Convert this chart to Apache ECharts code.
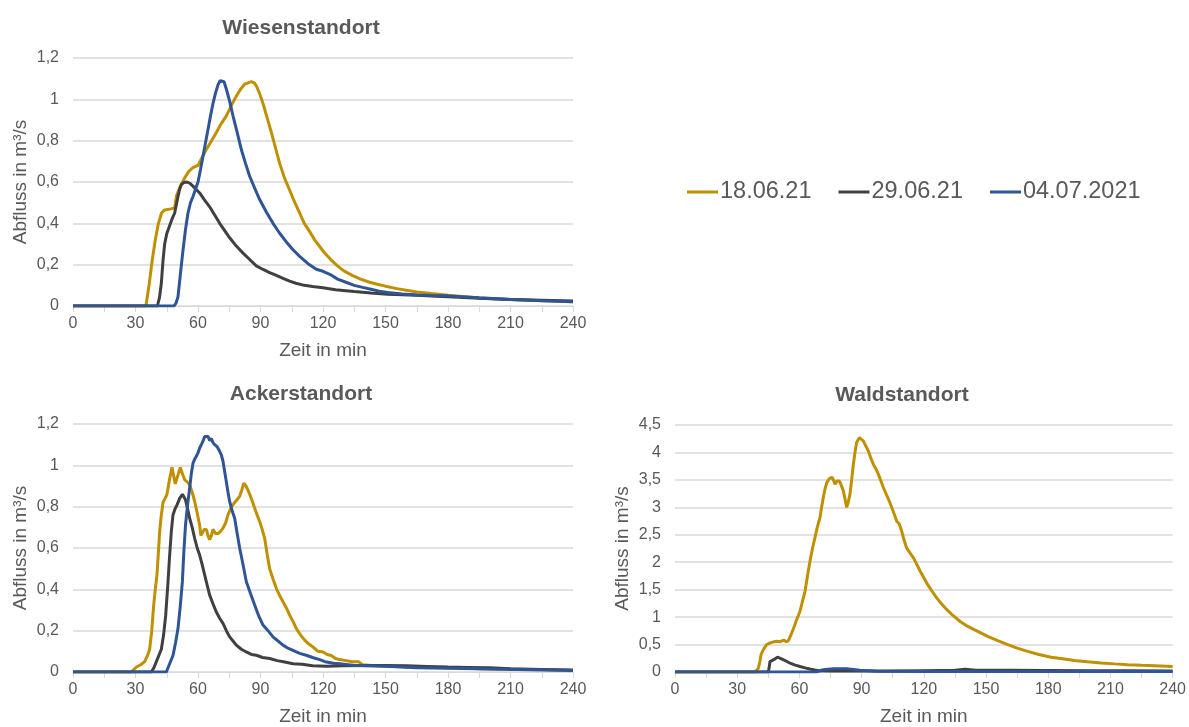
<!DOCTYPE html>
<html>
<head>
<meta charset="utf-8">
<script src="https://cdn.jsdelivr.net/npm/echarts@6/dist/echarts.min.js"></script>
<style>
html,body{margin:0;padding:0;background:#fff;}
#chart{width:1189px;height:727px;}
</style>
</head>
<body>
<div id="chart"></div>
<script>
// ---- names / ticks ----
const seriesNames = ['18.06.21', '29.06.21', '04.07.2021'];
const panelTitles = ['Wiesenstandort', 'Ackerstandort', 'Waldstandort'];
const xTicks = [0, 30, 60, 90, 120, 150, 180, 210, 240];
const yMaxWiese = 1.2, yMaxAcker = 1.2, yMaxWald = 4.5;

// ---- Wiesenstandort [min, m3/s] ----
const wiese_180621 = [[0,0],[35,0],[36.5,0.1],[38,0.22],[39.5,0.32],[41,0.40],[42.5,0.45],[44,0.465],[47,0.47],[48.8,0.475],[49.6,0.53],[51.5,0.58],[53.6,0.62],[55.5,0.65],[57.6,0.67],[60,0.68],[62,0.72],[64,0.757],[66.5,0.80],[68.8,0.84],[71,0.88],[73.6,0.92],[76,0.97],[78.4,1.016],[80.5,1.05],[82.4,1.073],[84,1.08],[85.6,1.086],[87,1.08],[88,1.065],[89.5,1.03],[91.2,0.98],[93.2,0.91],[95.2,0.84],[97.2,0.765],[99.2,0.69],[101.5,0.62],[104,0.56],[106.5,0.50],[108.8,0.45],[111,0.40],[113.6,0.36],[116,0.32],[118.4,0.288],[120.5,0.26],[123.5,0.227],[126.5,0.198],[130,0.17],[134,0.148],[138,0.13],[142,0.116],[146,0.105],[150,0.096],[155.5,0.084],[160,0.076],[165,0.068],[172,0.06],[180,0.052],[187,0.046],[195,0.039],[202,0.035],[210,0.032],[220,0.028],[230,0.024],[240,0.021]];
const wiese_290621 = [[0,0],[40.5,0],[41.5,0.04],[42.4,0.11],[43.2,0.22],[44,0.30],[45,0.35],[46.4,0.39],[47.5,0.42],[48.8,0.45],[49.6,0.49],[50.4,0.53],[51.2,0.565],[52,0.587],[53.3,0.598],[54.7,0.60],[56,0.594],[57.6,0.58],[59,0.565],[60.8,0.547],[63,0.515],[65.6,0.48],[68,0.44],[70.4,0.40],[72.8,0.365],[75.2,0.33],[78.4,0.29],[81.6,0.256],[84.8,0.225],[88,0.194],[91,0.178],[94.4,0.162],[97.6,0.148],[100.8,0.134],[104,0.12],[107,0.11],[111,0.10],[115,0.094],[120,0.088],[126,0.079],[131,0.074],[135,0.07],[143,0.063],[151,0.057],[158,0.055],[165,0.052],[172,0.048],[180,0.045],[195,0.038],[210,0.032],[225,0.028],[240,0.024]];
const wiese_040721 = [[0,0],[48.5,0],[49.5,0.015],[50.4,0.045],[51.5,0.15],[52.8,0.27],[54,0.37],[55.2,0.45],[56.4,0.50],[57.6,0.53],[58.8,0.565],[60,0.60],[61.2,0.66],[62.4,0.725],[63.6,0.79],[64.8,0.854],[66,0.92],[67.2,0.98],[68.4,1.03],[69.6,1.07],[70.6,1.09],[71.5,1.097],[72.5,1.085],[73.6,1.05],[75.2,0.99],[76.8,0.92],[78.8,0.84],[80.8,0.757],[82.8,0.69],[84.8,0.628],[87.2,0.57],[89.6,0.515],[92.8,0.455],[96,0.40],[99.2,0.352],[102.4,0.31],[105.6,0.272],[108.8,0.24],[112.8,0.205],[116.8,0.178],[120,0.168],[123.5,0.152],[127,0.13],[131,0.115],[135,0.10],[139,0.09],[143,0.081],[147,0.072],[151,0.065],[158,0.058],[165,0.053],[172,0.051],[180,0.049],[195,0.04],[210,0.032],[225,0.026],[240,0.021]];

// ---- Ackerstandort ----
const acker_180621 = [[0,0],[28,0],[30.4,0.024],[32.5,0.035],[34.4,0.05],[35.8,0.08],[36.8,0.11],[37.8,0.2],[38.7,0.32],[39.5,0.40],[40.3,0.47],[41,0.58],[41.6,0.68],[42.4,0.76],[43.2,0.82],[44.2,0.84],[45.1,0.86],[46.3,0.93],[47.5,0.99],[48.3,0.95],[49.1,0.91],[50.3,0.95],[51.5,0.99],[52.5,0.96],[53.6,0.93],[54.8,0.92],[56,0.906],[57.2,0.87],[58.4,0.825],[59.6,0.77],[60.8,0.71],[61.4,0.66],[62,0.655],[63,0.69],[64,0.69],[64.8,0.66],[65.6,0.64],[66.4,0.66],[67.2,0.69],[68.4,0.67],[69.6,0.67],[70.8,0.68],[72,0.696],[73.2,0.72],[74.4,0.76],[75.6,0.79],[76.8,0.81],[78.4,0.83],[80,0.85],[81,0.88],[82,0.914],[83,0.9],[84,0.88],[85.2,0.85],[86.4,0.817],[88,0.77],[89.6,0.728],[90.8,0.69],[92,0.647],[93.2,0.57],[94.4,0.5],[96,0.45],[97.6,0.405],[99.2,0.37],[100.8,0.34],[102.4,0.31],[104,0.275],[105.6,0.245],[107.2,0.21],[109.2,0.18],[111.2,0.154],[113.2,0.135],[115.2,0.121],[117.6,0.1],[120,0.097],[122,0.085],[124,0.08],[126,0.065],[128,0.06],[131,0.055],[134,0.05],[137,0.05],[139,0.035],[145,0.03],[150,0.028],[160,0.025],[180,0.02],[200,0.015],[220,0.012],[240,0.008]];
const acker_290621 = [[0,0],[37.6,0],[38.8,0.02],[40,0.05],[41.2,0.08],[42.4,0.11],[43.5,0.18],[44.5,0.275],[45.5,0.42],[46.4,0.566],[47.2,0.68],[48,0.76],[49,0.79],[50,0.81],[51.2,0.84],[52.5,0.86],[53.2,0.855],[54,0.833],[55,0.79],[56,0.744],[57.2,0.70],[58.4,0.647],[59.6,0.60],[60.8,0.566],[62,0.52],[63.2,0.47],[64.4,0.42],[65.6,0.372],[67.2,0.33],[68.8,0.29],[70.4,0.26],[72,0.235],[73.6,0.20],[75.2,0.17],[76.8,0.15],[78.4,0.13],[80.8,0.11],[83.2,0.097],[85.6,0.085],[88,0.081],[91,0.07],[94.4,0.065],[98,0.055],[101,0.05],[105.6,0.04],[110,0.038],[115,0.03],[121.6,0.028],[130,0.03],[140,0.032],[150,0.032],[160,0.03],[170,0.027],[180,0.024],[190,0.022],[200,0.02],[210,0.016],[225,0.012],[240,0.008]];
const acker_040721 = [[0,0],[44.8,0],[46.4,0.04],[48,0.08],[49.2,0.14],[50.4,0.21],[51.5,0.32],[52.5,0.437],[53.2,0.58],[54,0.71],[55,0.81],[56,0.89],[56.8,0.96],[57.6,1.01],[58.4,1.03],[59.2,1.044],[60,1.06],[60.8,1.084],[61.6,1.1],[62.4,1.117],[63.2,1.14],[64,1.133],[64.8,1.14],[65.6,1.12],[66.4,1.13],[67.2,1.11],[68,1.1],[69.2,1.09],[70.4,1.068],[71.2,1.05],[72,1.02],[72.8,0.97],[73.6,0.92],[74.4,0.87],[75.2,0.825],[76.4,0.78],[77.6,0.744],[78.8,0.67],[80,0.6],[81.6,0.52],[83.2,0.437],[85.2,0.38],[87.2,0.324],[89.2,0.27],[91.2,0.227],[93.6,0.2],[96,0.17],[98.4,0.15],[100.8,0.13],[103.2,0.115],[105.6,0.105],[108.8,0.09],[112,0.081],[115,0.07],[118.4,0.06],[121,0.05],[125,0.042],[128,0.04],[135,0.032],[150,0.028],[165,0.02],[180,0.018],[200,0.014],[220,0.011],[240,0.008]];

// ---- Waldstandort ----
const wald_180621 = [[0,0],[38.6,0],[40.2,0.07],[41,0.2],[41.5,0.32],[42.8,0.42],[44.2,0.5],[45.4,0.52],[46.6,0.54],[47.8,0.55],[49,0.56],[49.8,0.53],[50.6,0.55],[51.6,0.57],[52.6,0.58],[53.6,0.55],[54.7,0.57],[55.5,0.64],[56.3,0.71],[57.5,0.83],[58.7,0.955],[59.5,1.03],[60.3,1.107],[61.5,1.29],[62.7,1.47],[63.9,1.75],[65.1,2.02],[66.3,2.25],[67.5,2.45],[68.7,2.65],[69.9,2.81],[70.7,3.0],[71.5,3.175],[72.3,3.33],[73.2,3.45],[74.4,3.52],[75.6,3.55],[76.4,3.5],[77.2,3.42],[78.2,3.48],[79.3,3.48],[80.2,3.4],[81.2,3.3],[82,3.15],[82.8,3.0],[83.6,3.1],[84.4,3.24],[85.2,3.5],[86,3.78],[86.8,4.0],[87.6,4.18],[88.9,4.27],[89.8,4.25],[90.8,4.21],[92,4.12],[93.2,4.03],[94.4,3.9],[95.7,3.78],[96.9,3.7],[98.1,3.6],[99.3,3.48],[100.5,3.36],[102.1,3.22],[103.7,3.08],[105.3,2.92],[106.9,2.75],[108.1,2.7],[109.3,2.57],[110.5,2.4],[111.7,2.26],[113.3,2.17],[115,2.08],[116.6,1.96],[118.2,1.84],[119.8,1.73],[121.4,1.62],[123.8,1.48],[126.2,1.35],[128.6,1.24],[131,1.14],[134,1.03],[137.5,0.92],[141.2,0.83],[146,0.74],[150.8,0.65],[155.6,0.57],[160.5,0.5],[165,0.435],[170.1,0.376],[175.5,0.32],[181.4,0.27],[187,0.24],[192.6,0.21],[199,0.185],[205.5,0.164],[212,0.148],[218.3,0.133],[225,0.122],[231.2,0.115],[240,0.1]];
const wald_290621 = [[0,0],[45,0],[45.4,0.08],[45.8,0.19],[47.4,0.22],[49.4,0.27],[51.4,0.24],[53.5,0.2],[55.5,0.16],[58,0.125],[60.3,0.1],[62.7,0.075],[65.1,0.055],[69.1,0.025],[75,0.02],[85,0.02],[100,0.02],[120,0.025],[135,0.03],[140,0.05],[145,0.03],[160,0.03],[180,0.028],[200,0.025],[220,0.025],[240,0.02]];
const wald_040721 = [[0,0],[68,0],[71.5,0.04],[76.4,0.06],[82.8,0.06],[89.2,0.03],[97.3,0.012],[120,0.01],[160,0.01],[200,0.01],[240,0.01]];

const colors = ['#BF9000', '#404040', '#2F5597'];
const txt = '#595959';
const grid = '#D9D9D9';
const FONT = '"Liberation Sans", Arial, sans-serif';

const panelData = [
  [wiese_180621, wiese_290621, wiese_040721],
  [acker_180621, acker_290621, acker_040721],
  [wald_180621, wald_290621, wald_040721]
];
const yMax = [yMaxWiese, yMaxAcker, yMaxWald];
const yInt = [0.2, 0.2, 0.5];
const grids = [
  {left: 73, top: 58, width: 500, height: 248},
  {left: 73, top: 424, width: 500, height: 248},
  {left: 675, top: 425, width: 498, height: 247}
];
const titlePos = [[296, 13], [296, 379], [897, 380]];

const fmtY = v => String(+v.toFixed(1)).replace('.', ',');

const option = {
  backgroundColor: '#fff',
  animation: false,
  textStyle: {fontFamily: FONT},
  title: panelTitles.map((t, i) => ({
    text: t, left: titlePos[i][0], top: titlePos[i][1], textAlign: 'center',
    textStyle: {fontSize: 21, fontWeight: 'bold', color: txt, fontFamily: FONT}
  })),
  legend: {
    data: seriesNames, left: 682, top: 175, itemWidth: 31, itemHeight: 3, itemGap: 27,
    icon: 'rect',
    textStyle: {fontSize: 23.5, color: txt, fontFamily: FONT, padding: [0,0,0,-3]}
  },
  grid: grids,
  xAxis: grids.map((g, i) => ({
    type: 'value', gridIndex: i, min: 0, max: 240, interval: 15,
    name: 'Zeit in min', nameLocation: 'middle', nameGap: 35,
    nameTextStyle: {fontSize: 19, color: txt, fontFamily: FONT},
    axisLine: {show: true, lineStyle: {color: grid, width: 1}},
    axisTick: {show: true, length: 6, lineStyle: {color: grid}},
    axisLabel: {fontSize: 16, color: txt, margin: 10, fontFamily: FONT,
      formatter: v => (v % 30 === 0 ? String(v) : '')},
    splitLine: {show: false}
  })),
  yAxis: grids.map((g, i) => ({
    type: 'value', gridIndex: i, min: 0, max: yMax[i], interval: yInt[i],
    name: 'Abfluss in m³/s', nameLocation: 'middle', nameGap: 43,
    nameTextStyle: {fontSize: 19, color: txt, fontFamily: FONT},
    axisLine: {show: false}, axisTick: {show: false},
    axisLabel: {fontSize: 16, color: txt, margin: 14, fontFamily: FONT, formatter: fmtY},
    splitLine: {show: true, lineStyle: {color: grid, width: 1.5}}
  })),
  series: []
};

panelData.forEach((arrs, gi) => {
  arrs.forEach((d, si) => {
    option.series.push({
      type: 'line', name: seriesNames[si], xAxisIndex: gi, yAxisIndex: gi,
      data: d, showSymbol: false, symbol: 'none', smooth: false,
      lineStyle: {color: colors[si], width: 3}, itemStyle: {color: colors[si]},
      z: 2 + si
    });
  });
});

const chart = echarts.init(document.getElementById('chart'), null, {renderer: 'canvas'});
chart.setOption(option);
</script>
</body>
</html>
